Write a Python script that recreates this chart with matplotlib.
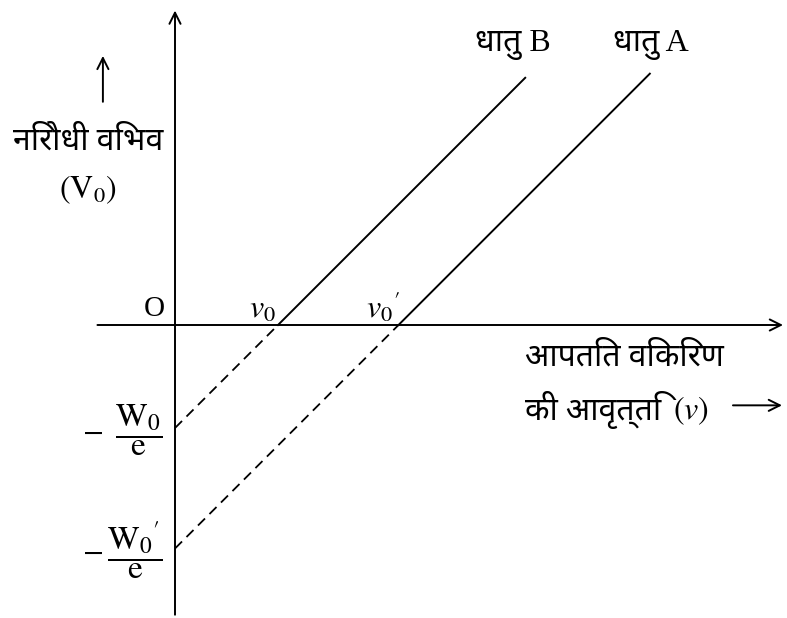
import matplotlib
matplotlib.use("Agg")
import matplotlib.pyplot as plt

# threshold frequencies and intercepts (in units of v0)
metals = ["धातु B", "धातु A"]
v_threshold = [1.0, 2.17]
w_over_e = [1.0, 2.17]
v_end = [3.40, 4.61]
intercept_labels = [r"$\dfrac{\mathrm{W_0}}{\mathrm{e}}$", r"$\dfrac{\mathrm{W_0{'}}}{\mathrm{e}}$"]

plt.rcParams['mathtext.fontset'] = 'stix'
plt.rcParams['font.family'] = ['Liberation Serif', 'DejaVu Serif', 'Noto Sans', 'DejaVu Sans']

fig = plt.figure(figsize=(7.87, 6.18), dpi=100)
ax = fig.add_axes([0, 0, 1, 1])
ax.set_xlim(-175 / 103, 612 / 103)
ax.set_ylim(-293 / 103, 325 / 103)
ax.axis('off')

arrow = dict(arrowstyle='->', lw=1.4, color='black', mutation_scale=20)

# axes with arrows
ax.annotate("", xy=(5.93, 0), xytext=(-0.78, 0), arrowprops=arrow, annotation_clip=False)
ax.annotate("", xy=(0, 3.08), xytext=(0, -2.84), arrowprops=arrow, annotation_clip=False)

for v0, w, ve, lab in zip(v_threshold, w_over_e, v_end, intercept_labels):
    ax.plot([v0, ve], [0, ve - v0], color='black', lw=1.4)
    ax.plot([0, v0], [-w, 0], color='black', lw=1.3, ls=(0, (5.5, 3.5)))
    ax.text(-0.80, -w - 0.04, r"$-$", fontsize=22, ha='center', va='center')
    ax.text(-0.12, -w - 0.02, lab, fontsize=24, ha='right', va='center')

ax.text(3.28, 2.72, metals[0], fontsize=23, ha='center', va='center')
ax.text(4.62, 2.72, metals[1], fontsize=23, ha='center', va='center')

ax.text(-0.2, 0.03, "O", fontsize=21, ha='center', va='bottom')
ax.text(0.85, 0.0, r"$v_0$", fontsize=23, ha='center', va='bottom')
ax.text(2.02, 0.0, r"$v_0{'}$", fontsize=23, ha='center', va='bottom')

# y label
ax.annotate("", xy=(-0.70, 2.64), xytext=(-0.70, 2.14), arrowprops=arrow, annotation_clip=False)
ax.text(-0.845, 1.78, "निरोधी विभव", fontsize=23, ha='center', va='center')
ax.text(-0.845, 1.31, r"$(\mathrm{V_0})$", fontsize=23, ha='center', va='center')

# x label
ax.text(4.36, -0.32, "आपतित विकिरण", fontsize=23, ha='center', va='center')
ax.text(3.40, -0.83, "की आवृत्ति ", fontsize=23, ha='left', va='center')
ax.text(5.18, -0.83, r"$(v)$", fontsize=23, ha='right', va='center')
ax.annotate("", xy=(5.92, -0.78), xytext=(5.39, -0.78), arrowprops=arrow, annotation_clip=False)

fig.savefig("out.png", dpi=100)
